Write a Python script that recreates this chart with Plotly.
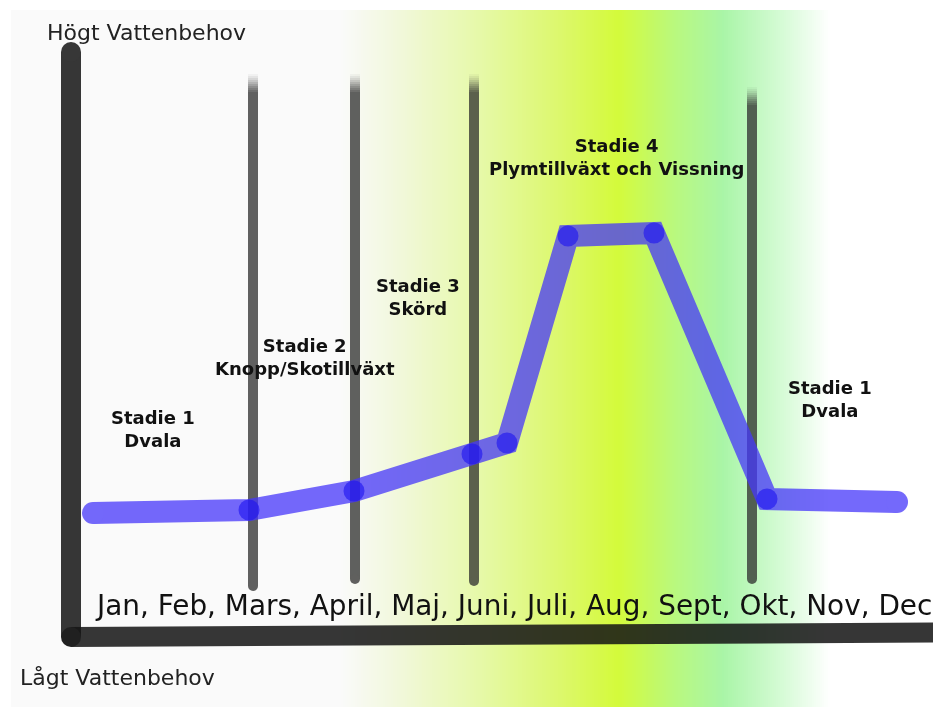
import numpy as np
import plotly.graph_objects as go

W, H = 933, 707

# ---- data (x in chart units left->right, y = water need, up = high) ----
need_x = [93, 249, 354, 472, 507, 568, 654, 767, 897]
need_y = [194, 197, 216, 253, 264, 471, 474, 208, 205]

stage_x = [253, 355, 474, 752]          # stage boundary lines
stage_top = [633, 633, 633, 620]
stage_bottom = [116, 123, 121, 123]

labels_text = ["Stadie 1<br>Dvala", "Stadie 2<br>Knopp/Skotillväxt", "Stadie 3<br>Skörd",
               "Stadie 4<br>Plymtillväxt och Vissning", "Stadie 1<br>Dvala"]
labels_x = [153, 305, 418, 616, 830]
labels_y = [278, 350, 410, 550, 308]

months_text = "Jan, Feb, Mars, April, Maj, Juni, Juli, Aug, Sept, Okt, Nov, Dec"
high_label = "Högt Vattenbehov"
low_label = "Lågt Vattenbehov"

grad_pos = [11, 340, 400, 481, 562, 618, 675, 723, 784, 830]
grad_col = ["#fafafa", "#fafafa", "#f1f8da", "#e6f9a8", "#dcf86b", "#d4fa3b",
            "#b9f97e", "#a9f5a7", "#d7fbd7", "#ffffff"]


def hex2rgb(h):
    h = h.lstrip("#")
    return [int(h[i:i + 2], 16) for i in (0, 2, 4)]


grad_rgb = np.array([hex2rgb(c) for c in grad_col], dtype=float)


def bg_at(x):
    if x < grad_pos[0] or x > grad_pos[-1]:
        return np.array([255.0, 255.0, 255.0])
    return np.array([np.interp(x, grad_pos, grad_rgb[:, k]) for k in range(3)])


def blend(rgb, a, x):
    c = a * np.array(rgb, dtype=float) + (1 - a) * bg_at(x)
    return "rgb(%d,%d,%d)" % tuple(np.round(c).astype(int))


fig = go.Figure()

# background gradient
N = 410
edges = np.linspace(grad_pos[0], grad_pos[-1], N + 1)
centers = (edges[:-1] + edges[1:]) / 2
span = grad_pos[-1] - grad_pos[0]
cscale = [[(p - grad_pos[0]) / span, c] for p, c in zip(grad_pos, grad_col)]
fig.add_trace(go.Heatmap(x=edges, y=[0, 697], z=[centers], colorscale=cscale,
                         zmin=grad_pos[0], zmax=grad_pos[-1], showscale=False,
                         hoverinfo="skip"))

# stage boundary lines (with faded tops)
v_rgb = (45, 45, 45)
v_a = 0.75
fade = [0.04, 0.1, 0.17, 0.25, 0.34, 0.43, 0.52, 0.6, 0.68]
for sx, st, sb in zip(stage_x, stage_top, stage_bottom):
    seg = 2
    for i, a in enumerate(fade):
        y0 = st - i * seg
        fig.add_trace(go.Scatter(x=[sx, sx], y=[y0, y0 - seg], mode="lines",
                                 line=dict(color="rgb(45,45,45)", width=10),
                                 opacity=a, hoverinfo="skip", showlegend=False))
    y_start = st - len(fade) * seg
    fig.add_trace(go.Scatter(x=[sx, sx], y=[y_start, sb + 5], mode="lines",
                             line=dict(color="rgb(45,45,45)", width=10),
                             opacity=v_a, hoverinfo="skip", showlegend=False))
    fig.add_trace(go.Scatter(x=[sx], y=[sb + 5], mode="markers",
                             marker=dict(size=10, color=blend(v_rgb, v_a, sx)),
                             hoverinfo="skip", showlegend=False))

# axes (thick rounded bars)
ax_rgb = (20, 20, 20)
ax_a = 0.85
ax_col = "rgb(20,20,20)"
fig.add_trace(go.Scatter(x=[71, 71], y=[655, 70], mode="lines",
                         line=dict(color=ax_col, width=20),
                         opacity=ax_a, hoverinfo="skip", showlegend=False))
fig.add_trace(go.Scatter(x=[71, 950], y=[70, 74.5], mode="lines",
                         line=dict(color=ax_col, width=20),
                         opacity=ax_a, hoverinfo="skip", showlegend=False))
fig.add_trace(go.Scatter(x=[71, 71], y=[655, 70], mode="markers",
                         marker=dict(size=20, color=[blend(ax_rgb, ax_a, 71), "rgb(32,32,32)"]),
                         hoverinfo="skip", showlegend=False))

# water need line
l_rgb = (70, 55, 250)
l_a = 0.75
fig.add_trace(go.Scatter(x=need_x, y=need_y, mode="lines",
                         line=dict(color="rgb(70,55,250)", width=22),
                         opacity=l_a, hoverinfo="skip", showlegend=False))
fig.add_trace(go.Scatter(x=[need_x[0], need_x[-1]], y=[need_y[0], need_y[-1]],
                         mode="markers",
                         marker=dict(size=22, color=[blend(l_rgb, l_a, need_x[0]),
                                                     blend(l_rgb, l_a, need_x[-1])]),
                         hoverinfo="skip", showlegend=False))
fig.add_trace(go.Scatter(x=need_x[1:-1], y=need_y[1:-1], mode="markers",
                         marker=dict(size=21, color="rgb(30,20,240)"),
                         opacity=0.62, hoverinfo="skip", showlegend=False))

font = "DejaVu Sans"
for t, x, y in zip(labels_text, labels_x, labels_y):
    fig.add_annotation(x=x, y=y, text="<b>" + t + "</b>", showarrow=False,
                       font=dict(family=font, size=18, color="#111"),
                       xanchor="center", yanchor="middle", align="center")

fig.add_annotation(x=93, y=102, text=months_text, showarrow=False,
                   font=dict(family=font, size=27.9, color="#111"),
                   xanchor="left", yanchor="middle")
fig.add_annotation(x=45, y=675, text=high_label, showarrow=False,
                   font=dict(family=font, size=22, color="#222"),
                   xanchor="left", yanchor="middle")
fig.add_annotation(x=18, y=30, text=low_label, showarrow=False,
                   font=dict(family=font, size=22, color="#222"),
                   xanchor="left", yanchor="middle")

fig.update_layout(width=W, height=H, margin=dict(l=0, r=0, t=0, b=0),
                  paper_bgcolor="white", plot_bgcolor="white",
                  xaxis=dict(range=[0, W], visible=False, fixedrange=True),
                  yaxis=dict(range=[0, H], visible=False, fixedrange=True),
                  showlegend=False, hovermode=False)

fig.write_html("out.html", config={"displayModeBar": False},
               post_script="document.body.style.margin='0';"
                           "document.body.style.overflow='hidden';")
